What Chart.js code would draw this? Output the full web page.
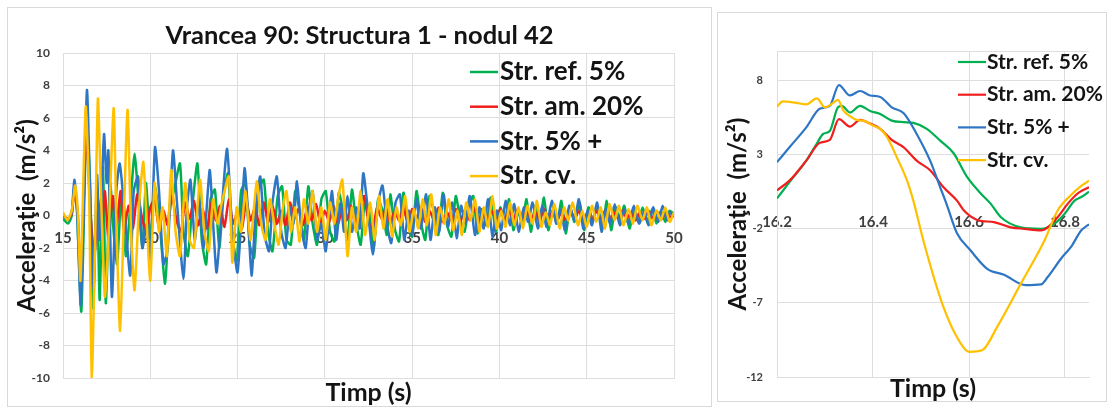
<!DOCTYPE html>
<html>
<head>
<meta charset="utf-8">
<script src="https://cdn.jsdelivr.net/npm/chart.js@4/dist/chart.umd.min.js"></script>
<style>
  html, body { margin: 0; padding: 0; background: #fff; }
  body { width: 1111px; height: 407px; position: relative; overflow: hidden; }
  .panel { position: absolute; border: 1px solid #d9d9d9; background: #fff; }
  #p1 { left: 7px; top: 7px; width: 703px; height: 398px; }
  #p2 { left: 717px; top: 12px; width: 388px; height: 388px; }
  canvas { display: block; }
</style>
</head>
<body>
<div class="panel" id="p1"><canvas id="full" width="703" height="398"></canvas></div>
<div class="panel" id="p2"><canvas id="detail" width="388" height="388"></canvas></div>
<script>
// ---- Series labels ----
const seriesLabels = ['Str. ref. 5%', 'Str. am. 20%', 'Str. 5% +', 'Str. cv.'];

// ---- Full record, 15 – 50 s: [time (s), acceleration (m/s²)] ----
const refFull = [[15.0,-0.2],[15.3,-0.5],[15.5,0.0],[15.65,1.8],[15.8,0.3],[16.05,-5.9],[16.35,6.0],[16.55,2.0],[16.72,-5.7],[16.95,1.5],[17.1,-5.2],[17.3,3.0],[17.45,-5.4],[17.7,2.0],[17.9,-1.0],[18.1,-3.0],[18.35,1.5],[18.6,-2.5],[18.85,0.5],[19.1,3.8],[19.35,0.5],[19.55,-2.0],[19.75,2.0],[20.0,-1.5],[20.25,1.8],[20.5,0.0],[20.85,-4.2],[21.1,0.5],[21.35,1.5],[21.7,3.2],[21.9,-1.0],[22.15,-2.5],[22.4,0.5],[22.7,3.2],[22.95,-1.5],[23.2,-3.0],[23.45,1.0],[23.7,1.6],[23.95,-2.0],[24.2,1.2],[24.45,2.6],[24.7,-1.5],[24.95,-2.8],[25.2,1.5],[25.45,2.0],[25.7,-1.8],[25.95,-2.6],[26.2,1.5],[26.5,2.2],[26.75,-1.0],[27.0,-2.2],[27.3,1.2],[27.55,1.8],[27.8,-1.5],[28.05,-1.8],[28.3,1.5],[28.55,0.3],[28.8,-1.5],[29.05,1.8],[29.3,-0.5],[29.55,-1.8],[29.8,1.0],[30.05,1.5],[30.3,-1.0],[30.55,-1.6],[30.8,1.4],[31.05,0.2],[31.3,-1.5],[31.55,1.6],[31.8,-0.5],[32.05,-1.8],[32.3,1.0],[32.55,0.2],[32.8,-2.0],[33.05,1.0],[33.3,0.3],[33.55,-1.2],[33.75,1.3],[34.0,-0.8],[34.25,-1.6],[34.5,1.4],[34.75,-0.3],[35.0,-1.3],[35.25,1.5],[35.5,-0.4],[35.75,-1.5],[36.0,1.2],[36.25,0.2],[36.5,-1.2],[36.75,1.4],[37.0,-0.6],[37.25,-1.3],[37.5,1.2],[37.75,-0.2],[38.0,-1.0],[38.25,0.6],[38.5,1.2],[38.75,-1.1],[39.0,0.4],[39.25,-0.6],[39.5,1.1],[39.8,-1.0],[40.05,0.5],[40.3,-0.4],[40.55,1.0],[40.8,-0.9],[41.05,0.3],[41.3,-0.5],[41.55,1.0],[41.8,-1.0],[42.05,0.6],[42.3,-0.6],[42.55,1.1],[42.8,-0.9],[43.05,0.3],[43.3,-0.5],[43.55,0.9],[43.8,-1.1],[44.05,0.5],[44.3,-0.4],[44.6,0.8],[44.85,-0.9],[45.1,0.5],[45.35,-0.3],[45.6,0.6],[45.9,-0.7],[46.15,0.9],[46.4,-0.9],[46.65,0.5],[46.9,-0.3],[47.15,0.6],[47.45,-0.8],[47.7,0.4],[47.95,-0.4],[48.2,0.5],[48.5,-0.5],[48.75,0.4],[49.0,-0.5],[49.25,0.3],[49.5,-0.4],[49.75,0.3],[50.0,0.1]];

const amFull = [[15.0,0.0],[15.3,-0.2],[15.5,0.1],[15.65,1.5],[15.85,0.0],[16.02,-4.0],[16.35,5.4],[16.55,0.5],[16.8,-2.5],[17.0,1.0],[17.2,-1.0],[17.4,1.5],[17.6,-1.5],[17.85,1.2],[18.05,-0.8],[18.3,1.5],[18.5,-1.0],[18.75,0.6],[19.0,-0.8],[19.25,1.3],[19.5,0.0],[19.75,-1.0],[20.0,0.5],[20.25,1.0],[20.5,-0.8],[20.75,0.3],[21.0,-0.6],[21.25,1.2],[21.5,-0.3],[21.75,-1.0],[22.0,0.8],[22.25,-0.2],[22.5,0.9],[22.75,-0.6],[23.0,0.4],[23.25,-0.8],[23.5,0.8],[23.75,-0.3],[24.0,0.6],[24.25,-0.7],[24.5,1.0],[24.75,-0.5],[25.0,0.2],[25.25,-0.8],[25.5,0.9],[25.75,-0.3],[26.0,0.5],[26.25,-0.6],[26.5,0.8],[26.75,-0.4],[27.0,0.6],[27.25,-0.5],[27.5,0.3],[27.75,-0.6],[28.0,0.8],[28.25,-0.2],[28.5,0.4],[28.75,-0.6],[29.0,0.5],[29.25,-0.3],[29.5,0.7],[29.75,-0.5],[30.0,0.3],[30.25,-0.4],[30.5,0.6],[30.75,-0.5],[31.0,0.4],[31.25,-0.3],[31.5,0.6],[31.75,-0.6],[32.0,0.3],[32.25,1.2],[32.5,-0.4],[32.75,-0.8],[33.0,0.5],[33.25,-0.2],[33.5,0.6],[33.75,-0.5],[34.0,0.3],[34.25,-0.3],[34.5,0.5],[34.75,-0.5],[35.0,0.4],[35.25,-0.2],[35.5,0.5],[35.75,-0.4],[36.0,0.3],[36.25,-0.3],[36.5,0.5],[36.75,-0.4],[37.0,0.2],[37.25,-0.3],[37.5,0.4],[37.75,-0.4],[38.0,0.3],[38.3,-0.3],[38.55,0.5],[38.8,-0.3],[39.05,0.2],[39.3,-0.4],[39.55,0.3],[39.8,-0.2],[40.05,0.4],[40.3,-0.3],[40.55,0.3],[40.8,-0.3],[41.05,0.4],[41.3,-0.2],[41.55,0.3],[41.8,-0.3],[42.05,0.2],[42.3,-0.3],[42.55,0.4],[42.8,-0.2],[43.05,0.3],[43.3,-0.3],[43.55,0.2],[43.8,-0.3],[44.05,0.4],[44.3,-0.2],[44.55,0.3],[44.8,-0.3],[45.05,0.2],[45.3,-0.3],[45.55,0.3],[45.8,-0.2],[46.05,0.3],[46.3,-0.3],[46.55,0.2],[46.8,-0.2],[47.05,0.3],[47.3,-0.2],[47.55,0.2],[47.8,-0.3],[48.05,0.2],[48.3,-0.2],[48.55,0.3],[48.8,-0.2],[49.05,0.2],[49.3,-0.2],[49.55,0.2],[49.8,-0.1],[50.0,0.0]];

const plusFull = [[15.0,0.0],[15.3,-0.3],[15.5,0.2],[15.65,2.2],[15.8,0.5],[16.02,-5.5],[16.37,7.7],[16.55,1.5],[16.75,-4.5],[16.95,2.5],[17.1,-1.5],[17.35,5.0],[17.5,2.0],[17.6,4.0],[17.8,-5.0],[18.05,1.5],[18.25,3.2],[18.5,0.5],[18.85,-3.7],[19.05,1.5],[19.3,2.4],[19.55,-2.0],[19.8,-0.5],[20.0,-3.0],[20.27,4.2],[20.5,1.5],[20.75,-3.0],[21.0,-2.0],[21.3,4.0],[21.55,0.5],[21.9,-3.9],[22.1,0.5],[22.3,2.2],[22.55,-1.5],[22.8,1.0],[23.05,-2.0],[23.4,2.8],[23.6,-0.5],[23.8,-3.5],[24.1,0.5],[24.4,4.1],[24.7,-1.0],[25.0,-3.5],[25.4,2.9],[25.55,1.0],[25.8,-3.7],[26.05,0.5],[26.3,2.4],[26.55,-1.2],[26.8,-2.2],[27.0,0.8],[27.25,2.4],[27.5,-1.0],[27.75,-2.0],[28.0,0.5],[28.2,-0.5],[28.4,2.1],[28.65,-0.8],[28.9,-2.0],[29.1,0.5],[29.3,1.5],[29.55,-1.5],[29.8,-0.5],[30.05,-2.2],[30.4,1.5],[30.65,-1.5],[30.9,0.8],[31.1,-1.0],[31.3,1.2],[31.55,-1.0],[31.8,0.5],[32.0,-0.8],[32.2,2.6],[32.45,0.5],[32.75,-2.4],[33.0,0.5],[33.3,1.85],[33.55,-0.5],[33.8,-1.7],[34.05,0.8],[34.3,1.3],[34.55,-1.5],[34.8,0.3],[35.0,-1.2],[35.25,1.0],[35.5,-0.8],[35.8,1.3],[36.05,-1.5],[36.3,0.5],[36.55,-1.0],[36.8,1.3],[37.05,-0.7],[37.3,0.8],[37.55,-1.4],[37.8,0.6],[38.05,-0.5],[38.3,1.2],[38.6,-1.2],[38.85,0.5],[39.1,-0.8],[39.35,1.0],[39.6,-1.3],[39.85,0.3],[40.1,-0.9],[40.35,0.9],[40.6,-0.6],[40.85,0.7],[41.1,-1.0],[41.4,0.5],[41.65,-0.4],[41.9,0.8],[42.2,-0.8],[42.45,0.6],[42.7,-0.7],[43.0,0.9],[43.25,-0.5],[43.5,0.4],[43.75,-0.9],[44.0,0.6],[44.3,-0.3],[44.55,1.0],[44.8,-0.8],[45.05,0.3],[45.3,-0.6],[45.6,0.8],[45.85,-1.0],[46.1,0.4],[46.35,-0.5],[46.6,0.7],[46.9,-0.6],[47.15,0.4],[47.4,-0.5],[47.7,0.6],[48.0,-0.5],[48.3,0.3],[48.55,-0.6],[48.8,0.5],[49.1,-0.4],[49.35,0.6],[49.6,-0.3],[49.8,0.2],[50.0,-0.1]];

const cvFull = [[15.0,0.2],[15.25,-0.3],[15.5,0.3],[15.7,1.85],[15.85,0.2],[16.0,-4.0],[16.3,6.7],[16.5,1.0],[16.65,-10.0],[16.85,-1.0],[17.0,7.2],[17.2,0.5],[17.4,-5.0],[17.6,-1.5],[17.9,6.6],[18.05,0.0],[18.27,-7.1],[18.5,0.5],[18.7,6.5],[18.9,-1.0],[19.1,-4.6],[19.35,0.5],[19.6,3.3],[19.8,-0.5],[20.0,-4.0],[20.25,2.0],[20.5,-1.0],[20.7,0.5],[20.95,-2.5],[21.2,2.8],[21.45,-1.0],[21.7,-2.5],[22.0,2.0],[22.25,-1.5],[22.5,-2.0],[22.85,2.2],[23.1,-1.0],[23.35,-2.2],[23.6,1.0],[23.85,-0.5],[24.1,0.8],[24.5,2.4],[24.7,-2.9],[24.95,0.5],[25.2,-1.0],[25.45,1.5],[25.75,-1.5],[26.1,2.1],[26.35,-0.5],[26.6,-1.5],[26.85,1.0],[27.1,-0.5],[27.35,-1.8],[27.6,0.5],[27.8,1.5],[28.05,-1.0],[28.3,0.5],[28.55,-1.6],[28.8,1.0],[29.05,-0.5],[29.3,1.5],[29.55,-1.0],[29.8,0.5],[30.05,-1.5],[30.3,0.8],[30.55,-0.5],[30.75,1.0],[31.0,2.2],[31.3,-2.5],[31.55,0.5],[31.8,-1.0],[32.05,1.5],[32.3,-1.2],[32.6,0.8],[32.85,-1.5],[33.1,1.2],[33.35,-0.8],[33.6,1.0],[33.85,-1.3],[34.1,0.5],[34.35,-0.6],[34.6,1.2],[34.85,-1.0],[35.1,0.4],[35.35,-0.8],[35.6,1.0],[35.85,-0.6],[36.1,1.3],[36.35,-1.2],[36.6,0.5],[36.85,-0.5],[37.1,1.0],[37.35,-0.9],[37.6,0.3],[37.85,-1.2],[38.1,0.8],[38.35,-0.3],[38.6,1.0],[38.85,-1.0],[39.1,0.5],[39.35,-0.7],[39.6,1.2],[39.85,-0.8],[40.1,0.3],[40.35,-0.7],[40.6,0.8],[40.85,-0.6],[41.1,0.5],[41.35,-0.8],[41.6,0.6],[41.9,-0.5],[42.15,0.9],[42.4,-0.7],[42.65,0.2],[42.9,-0.6],[43.15,0.7],[43.45,-0.8],[43.7,0.5],[43.95,-0.3],[44.2,0.8],[44.5,-0.6],[44.75,0.3],[45.0,-0.7],[45.3,0.6],[45.55,-0.4],[45.8,0.5],[46.05,-0.8],[46.3,0.7],[46.6,-0.3],[46.85,0.6],[47.1,-0.6],[47.4,0.4],[47.65,-0.5],[47.9,0.6],[48.2,-0.3],[48.45,0.5],[48.7,-0.6],[49.0,0.3],[49.25,-0.3],[49.5,0.5],[49.75,-0.4],[50.0,0.2]];

// ---- Detail window, 16.2 – 16.85 s ----
const refDetail = [[16.2,0.05],[16.226,1.15],[16.261,2.6],[16.283,3.75],[16.296,4.4],[16.31,4.6],[16.327,6.2],[16.335,6.3],[16.352,5.85],[16.373,6.3],[16.394,5.95],[16.415,5.75],[16.439,5.3],[16.464,5.2],[16.484,5.15],[16.512,4.75],[16.54,3.95],[16.568,3.1],[16.596,1.5],[16.624,0.4],[16.645,-0.3],[16.666,-1.2],[16.708,-1.9],[16.75,-2.0],[16.778,-1.65],[16.799,-1.0],[16.82,-0.1],[16.834,0.15],[16.85,0.5]];
const amDetail = [[16.2,0.6],[16.226,1.25],[16.261,2.6],[16.289,3.8],[16.31,4.0],[16.329,5.4],[16.352,4.9],[16.373,5.35],[16.394,5.1],[16.415,4.75],[16.439,4.0],[16.464,3.5],[16.491,2.6],[16.519,1.95],[16.547,0.8],[16.575,-0.1],[16.589,-0.75],[16.617,-1.4],[16.652,-1.55],[16.687,-1.9],[16.715,-2.0],[16.75,-2.1],[16.764,-1.9],[16.785,-1.2],[16.806,-0.3],[16.827,0.4],[16.85,0.8]];
const plusDetail = [[16.2,2.5],[16.226,3.5],[16.261,4.85],[16.289,6.1],[16.31,6.3],[16.329,7.7],[16.352,7.0],[16.373,7.3],[16.394,7.0],[16.415,6.9],[16.439,6.2],[16.464,5.8],[16.491,4.4],[16.519,2.6],[16.54,0.8],[16.554,-0.4],[16.575,-2.3],[16.603,-3.45],[16.638,-4.7],[16.673,-5.1],[16.718,-5.8],[16.75,-5.75],[16.764,-5.25],[16.792,-4.0],[16.813,-3.2],[16.834,-2.1],[16.85,-1.7]];
const cvDetail = [[16.2,6.25],[16.212,6.6],[16.24,6.5],[16.261,6.4],[16.283,6.8],[16.3,6.2],[16.317,6.5],[16.327,6.7],[16.338,6.0],[16.352,5.6],[16.366,5.35],[16.38,5.3],[16.401,4.95],[16.415,4.75],[16.429,4.2],[16.45,2.8],[16.471,1.25],[16.484,-0.1],[16.505,-2.8],[16.547,-7.3],[16.582,-9.7],[16.6,-10.3],[16.627,-10.2],[16.659,-8.6],[16.708,-5.7],[16.757,-2.8],[16.785,-0.75],[16.813,0.3],[16.834,0.9],[16.85,1.25]];

// ---- Axis ranges and tick values ----
const fullTimeTicks = [15, 20, 25, 30, 35, 40, 45, 50];
const fullAccTicks = [-10, -8, -6, -4, -2, 0, 2, 4, 6, 8, 10];
const detailTimeTicks = [16.2, 16.4, 16.6, 16.8];
const detailAccTicks = [-12, -7, -2, 3, 8];
const detailTimeRange = [16.2, 16.85];
const detailAccRange = [-12, 10];

// ---- Styling ----
const FONT = 'Lato, "Open Sans", sans-serif';
const GRID = '#dedede';
const TICK_COLOR = '#404040';
const TEXT_COLOR = '#141414';
const COLORS = ['#00b050', '#f01e1e', '#2e75c4', '#ffc000'];
const DRAW_ORDER = [3, 2, 1, 0]; // last series painted on top

function toPoints(pairs) { return pairs.map(p => ({ x: p[0], y: p[1] })); }

function makeDatasets(seriesList, width, extra) {
  return seriesList.map((pairs, i) => Object.assign({
    label: seriesLabels[i],
    data: toPoints(pairs),
    borderColor: COLORS[i],
    backgroundColor: COLORS[i],
    borderWidth: width,
    pointRadius: 0,
    fill: false,
    order: DRAW_ORDER[i]
  }, extra));
}

function fixedTicks(values) {
  return scale => { scale.ticks = values.map(v => ({ value: v })); };
}

// Legend drawn as short line samples with labels, inside the plot area
const lineLegend = {
  id: 'lineLegend',
  afterDatasetsDraw(chart, args, o) {
    const ctx = chart.ctx;
    ctx.save();
    ctx.font = 'bold ' + o.size + 'px ' + FONT;
    ctx.textBaseline = 'middle';
    ctx.textAlign = 'left';
    chart.data.datasets.forEach((ds, i) => {
      const y = o.y + i * o.rowGap;
      ctx.strokeStyle = ds.borderColor;
      ctx.lineWidth = o.lineWidth;
      ctx.beginPath();
      ctx.moveTo(o.x, y);
      ctx.lineTo(o.x + o.lineLength, y);
      ctx.stroke();
      ctx.fillStyle = TEXT_COLOR;
      ctx.fillText(ds.label, o.x + o.lineLength + o.gap, y);
    });
    ctx.restore();
  }
};

function axisTitle(text, size, pad) {
  return { display: true, text: text, color: TEXT_COLOR, padding: pad,
           font: { family: FONT, size: size, weight: 'bold', lineHeight: 1 } };
}

// An empty right-hand axis that only reserves margin, so the chart title stays centred on the canvas
function spacerAxis(width) {
  return {
    type: 'linear', position: 'right', display: true,
    afterFit: s => { s.width = width; },
    ticks: { display: false },
    grid: { display: false, drawTicks: false },
    border: { display: false }
  };
}

function build() {
  // Full record 15–50 s
  new Chart(document.getElementById('full'), {
    type: 'line',
    data: { datasets: makeDatasets([refFull, amFull, plusFull, cvFull], 2.5, { tension: 0.2 }) },
    plugins: [lineLegend],
    options: {
      responsive: false,
      animation: false,
      events: [],
      layout: { padding: 0 },
      plugins: {
        legend: { display: false },
        tooltip: { enabled: false },
        title: {
          display: true,
          text: 'Vrancea 90: Structura 1 - nodul 42',
          color: TEXT_COLOR,
          font: { family: FONT, size: 25.5, weight: 'bold', lineHeight: 1.2 },
          padding: { top: 12, bottom: 2.4 }
        },
        lineLegend: { x: 462, y: 64, rowGap: 34.7, lineLength: 28, gap: 2, lineWidth: 2.5, size: 26 }
      },
      scales: {
        x: {
          type: 'linear', position: 'bottom', min: 15, max: 50,
          afterBuildTicks: fixedTicks(fullTimeTicks),
          afterFit: s => { s.height = 28; },
          ticks: { display: false },
          grid: { color: GRID, drawTicks: false },
          border: { color: GRID },
          title: axisTitle('Timp (s)', 25, { top: 0, bottom: 1 })
        },
        x0: {
          type: 'linear', axis: 'x', position: { y: 0 }, min: 15, max: 50,
          afterBuildTicks: fixedTicks(fullTimeTicks),
          afterFit: s => { s.height = 0; },
          grid: { display: false, drawTicks: false },
          border: { display: false },
          ticks: { color: TICK_COLOR, padding: 14, autoSkip: false, maxRotation: 0,
                   font: { family: FONT, size: 15, weight: 'bold' } }
        },
        y: {
          type: 'linear', position: 'left', min: -10, max: 10,
          afterBuildTicks: fixedTicks(fullAccTicks),
          afterFit: s => { s.width = 55; },
          grid: { color: GRID, drawTicks: false },
          border: { color: GRID },
          ticks: { color: TICK_COLOR, padding: 13, font: { family: FONT, size: 12, weight: 'bold' } },
          title: axisTitle('Acceleraţie  (m/s²)', 24, { top: 7, bottom: 0 })
        },
        yMargin: spacerAxis(37)
      }
    }
  });

  // Detail window 16.2–16.85 s
  new Chart(document.getElementById('detail'), {
    type: 'line',
    data: { datasets: makeDatasets([refDetail, amDetail, plusDetail, cvDetail], 2.2, { cubicInterpolationMode: 'monotone' }) },
    plugins: [lineLegend],
    options: {
      responsive: false,
      animation: false,
      events: [],
      layout: { padding: { left: 0, right: 17, top: 38, bottom: 0 } },
      plugins: {
        legend: { display: false },
        tooltip: { enabled: false },
        lineLegend: { x: 240, y: 49, rowGap: 32.7, lineLength: 28, gap: 1, lineWidth: 2.2, size: 21 }
      },
      scales: {
        x: {
          type: 'linear', position: 'bottom', min: detailTimeRange[0], max: detailTimeRange[1],
          afterBuildTicks: fixedTicks(detailTimeTicks),
          afterFit: s => { s.height = 24; },
          ticks: { display: false },
          grid: { color: GRID, drawTicks: false },
          border: { color: GRID },
          title: axisTitle('Timp (s)', 25, { top: 0, bottom: 0 })
        },
        x0: {
          type: 'linear', axis: 'x', position: { y: 0 }, min: detailTimeRange[0], max: detailTimeRange[1],
          afterBuildTicks: fixedTicks(detailTimeTicks),
          afterFit: s => { s.height = 0; },
          grid: { display: false, drawTicks: false },
          border: { display: false },
          ticks: { color: TICK_COLOR, padding: 14, autoSkip: false, maxRotation: 0,
                   font: { family: FONT, size: 15, weight: 'bold' },
                   callback: v => v.toFixed(1) }
        },
        y: {
          type: 'linear', position: 'left', min: detailAccRange[0], max: detailAccRange[1],
          afterBuildTicks: s => { s.ticks = detailAccTicks.concat([detailAccRange[1]]).map(v => ({ value: v })); },
          afterFit: s => { s.width = 59; },
          grid: { color: GRID, drawTicks: false },
          border: { color: GRID },
          ticks: { color: TICK_COLOR, padding: 14, font: { family: FONT, size: 11, weight: 'bold' },
                   callback: v => detailAccTicks.includes(v) ? String(v) : '' },
          title: axisTitle('Acceleraţie  (m/s²)', 24, { top: 8, bottom: 0 })
        }
      }
    }
  });
}

Promise.all([
  document.fonts.load('bold 24px Lato'),
  document.fonts.load('bold 12px Lato')
]).then(build, build);
</script>
</body>
</html>
